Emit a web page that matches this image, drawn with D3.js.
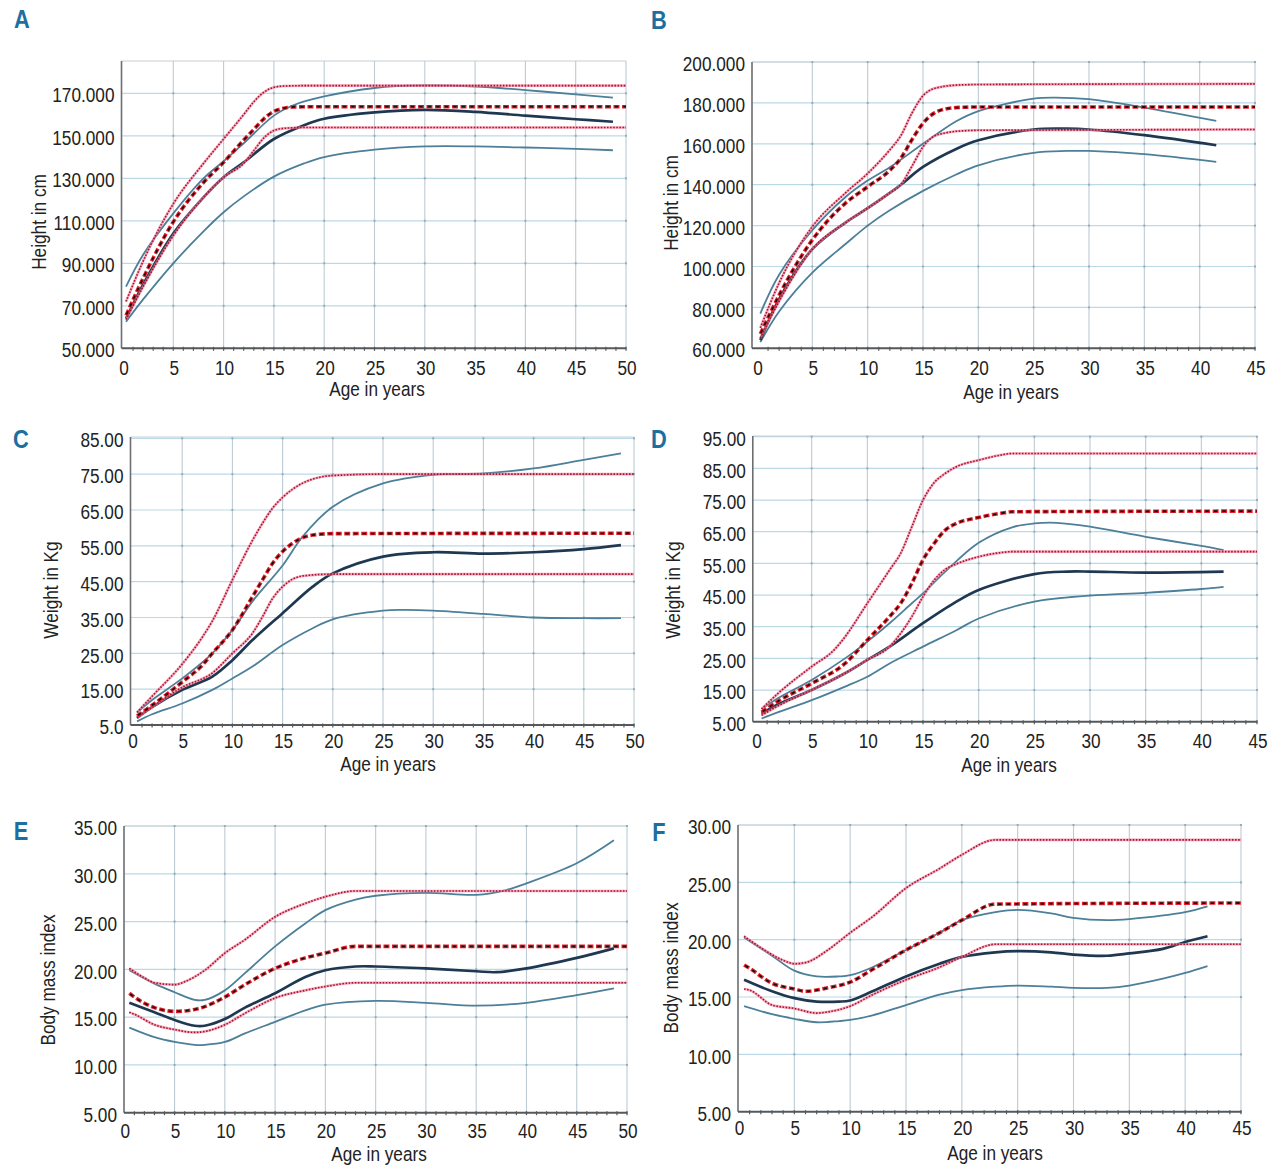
<!DOCTYPE html>
<html><head><meta charset="utf-8">
<script src="https://cdn.jsdelivr.net/npm/d3@7"></script>
<style>
body{margin:0;background:#fff;}
svg text{font-family:"Liberation Sans Narrow","Liberation Sans",Arial,sans-serif;fill:#222;}
</style></head><body>
<svg id="chart" width="1280" height="1173"></svg>
<script>
// ---------------- DATA ----------------
const xLabel = "Age in years";
const yLabels = {A:"Height in cm",B:"Height in cm",C:"Weight in Kg",D:"Weight in Kg",E:"Body mass index",F:"Body mass index"};

const xTicks50 = [0,5,10,15,20,25,30,35,40,45,50];
const xTicks45 = [0,5,10,15,20,25,30,35,40,45];
const A_yTicks = [50,70,90,110,130,150,170];
const B_yTicks = [60,80,100,120,140,160,180,200];
const C_yTicks = [5,15,25,35,45,55,65,75,85];
const C_yTickLabels = ["5.0","15.00","25.00","35.00","45.00","55.00","65.00","75.00","85.00"];
const D_yTicks = [5,15,25,35,45,55,65,75,85,95];
const E_yTicks = [5,10,15,20,25,30,35];
const F_yTicks = [5,10,15,20,25,30];

// Panel A – height (reference: red, observed: blue)
const A_refHigh = [[0.3,72],[2,91],[5,118],[8,137],[10,148.5],[12,160],[13,166],[14,170.5],[15,172.8],[16,173.4],[18,173.6],[50,173.6]];
const A_refMid  = [[0.3,65.5],[2,83],[5,109.5],[8,128],[10,137.5],[12,148],[13,153],[14,158],[15,161.5],[16,163],[17,163.6],[20,163.7],[50,163.7]];
const A_refLow  = [[0.3,63.5],[2,79],[5,103],[8,121],[10,130.5],[12,137],[13,143],[14,149],[15,152.5],[16,153.5],[18,153.9],[50,153.9]];
const A_obsHigh = [[0.3,79],[2,94],[5,113.5],[8,130],[10,138],[12,146.5],[15,159.5],[17,164.5],[20,168.5],[25,172.5],[30,173.7],[35,173.2],[40,171.5],[45,169.5],[48.7,168]];
const A_obsMid  = [[0.3,64],[2,80],[5,104],[8,121],[10,130.5],[12,137.5],[15,148.5],[18,155],[20,158],[25,161],[30,162.2],[35,161.3],[40,159.5],[45,157.8],[48.7,156.6]];
const A_obsLow  = [[0.3,62.5],[2,73],[5,90],[8,105],[10,114],[12,121.5],[15,130.8],[18,137],[20,140],[25,143.5],[30,145],[35,145],[40,144.5],[45,143.8],[48.7,143.2]];

// Panel B – height
const B_refHigh = [[0.3,70],[2,92],[5,119.5],[8,136],[10,145.5],[12,157],[13,164],[14,175],[15,183.5],[16,187],[18,188.7],[20,189],[45,189.3]];
const B_refMid  = [[0.3,67],[2,86],[5,113],[8,131],[10,139],[12,147],[13,153],[14,162],[15,170],[16,175],[17,177],[18,177.7],[20,178],[45,178]];
const B_refLow  = [[0.3,65],[2,83],[5,108.5],[8,121.5],[10,128.5],[12,136],[13,140],[14,149],[15,158.5],[16,163.7],[17,165.3],[18,166.1],[20,166.6],[45,167]];
const B_obsHigh = [[0.3,77],[2,96],[5,117.8],[8,134],[10,142],[12,148.5],[15,160],[18,171],[20,176],[25,182.1],[27,182.6],[30,181.8],[35,177.7],[41.5,171.2]];
const B_obsMid  = [[0.3,64],[2,84],[5,108.5],[8,121.5],[10,128.5],[12,136],[13,140],[15,148.7],[18,157.5],[20,161.7],[25,167],[28,167.4],[30,167],[35,164.2],[41.5,159.3]];
const B_obsLow  = [[0.3,63],[2,78],[5,97],[8,111],[10,120],[12,127.5],[15,137],[18,145],[20,149.5],[25,155.6],[28,156.5],[30,156.5],[35,155],[41.5,151.2]];

// Panel C – weight
const C_refHigh = [[0.5,8.5],[2,13],[5,22],[7,29.5],[8,34],[10,45.5],[12,56.5],[13,61.3],[14,65.5],[15,68.5],[17,72.5],[20,74.6],[25,75],[50,75]];
const C_refMid  = [[0.5,7.5],[2,10.5],[5,17],[7,21.7],[8,25],[10,31.5],[12,40.8],[13,45.5],[14,50.1],[15,53.4],[16,55.7],[17,57.3],[18,58],[20,58.4],[50,58.5]];
const C_refLow  = [[0.5,7],[2,10],[5,15.5],[8,19.5],[10,25],[12,30.6],[13,35.2],[14,40.3],[15,43.6],[16,45.7],[17,46.6],[20,47.1],[50,47.1]];
const C_obsHigh = [[0.5,8.5],[2,12],[5,18],[8,25],[10,31.5],[12,39.5],[15,49.5],[17,57.6],[20,65.9],[25,72.4],[30,74.8],[35,75.2],[40,76.6],[45,79],[48.7,80.8]];
const C_obsMid  = [[0.5,7],[2,10],[5,14.8],[8,18.5],[10,23.1],[12,28.7],[15,36.2],[18,43.6],[20,47.3],[25,52],[30,53.2],[35,52.8],[40,53.2],[45,54.1],[48.7,55.2]];
const C_obsLow  = [[0.5,6],[2,8],[5,11],[8,14.8],[10,18],[12,21.3],[15,27.3],[18,32],[20,34.5],[25,36.9],[27,37.1],[30,36.9],[35,36],[40,35],[45,34.8],[48.7,34.8]];

// Panel D – weight
const D_refHigh = [[0.5,9],[2,14],[5,22.4],[7,27.6],[8,31.8],[10,42.4],[12,52.9],[13,58.2],[14,66.6],[15,75],[16,80.5],[17,83.4],[18,85.5],[20,87.6],[22,89.2],[23,89.7],[45,89.7]];
const D_refMid  = [[0.5,8],[2,11.5],[5,17.1],[8,23.4],[10,30.8],[12,38.2],[13,42.4],[14,48.7],[15,56.1],[16,61.3],[17,65.5],[18,67.6],[20,69.5],[22,70.8],[23,71.3],[45,71.5]];
const D_refLow  = [[0.5,7],[2,10],[5,15],[8,20.3],[10,24.5],[12,28.7],[13,32.9],[14,38.2],[15,44.5],[16,49.7],[17,53.1],[18,54.8],[20,57.1],[22,58.4],[23,58.7],[45,58.7]];
const D_obsHigh = [[0.5,9],[2,12.5],[5,18.2],[8,25],[10,30.3],[12,36.1],[14,42.4],[15,45.5],[17,52.4],[20,61.5],[23,66.4],[25,67.6],[27,67.8],[30,66.6],[35,63.4],[40,60.5],[42,59.2]];
const D_obsMid  = [[0.5,7.5],[2,10.5],[5,15],[8,20.3],[10,24.5],[12,28.7],[15,36.1],[18,42.9],[20,46.6],[25,51.6],[28,52.4],[30,52.4],[35,52.1],[42,52.4]];
const D_obsLow  = [[0.5,6],[2,8],[5,11.8],[8,16.1],[10,19.2],[12,23.4],[15,28.7],[18,33.9],[20,37.6],[25,42.9],[30,44.8],[35,45.7],[40,46.9],[42,47.6]];

// Panel E – BMI
const E_refHigh = [[0.5,20.1],[2,19.1],[3,18.6],[5,18.4],[6,18.7],[8,19.9],[10,21.7],[12,23.1],[15,25.5],[18,26.9],[20,27.6],[23,28.2],[50,28.2]];
const E_refMid  = [[0.5,17.5],[1,17.1],[3,16],[5,15.6],[7,15.8],[8,16.1],[10,17.1],[12,18.4],[15,20.1],[18,21.2],[20,21.7],[23,22.4],[50,22.4]];
const E_refLow  = [[0.5,15.5],[1,15.3],[3,14.2],[5,13.7],[7,13.4],[8,13.5],[10,14.2],[12,15.4],[15,17],[18,17.8],[20,18.2],[23,18.6],[50,18.6]];
const E_obsHigh = [[0.5,19.9],[3,18.5],[5,17.6],[7,16.8],[8,16.8],[10,17.8],[12,19.6],[15,22.4],[18,24.8],[20,26.2],[23,27.3],[25,27.7],[30,28],[35,27.8],[38,28.3],[40,29],[45,31.1],[48.7,33.5]];
const E_obsMid  = [[0.5,16.5],[3,15.5],[5,14.7],[7,14.1],[8,14.1],[10,14.8],[12,16],[15,17.5],[18,19.2],[20,19.9],[23,20.3],[25,20.3],[30,20.1],[35,19.8],[37,19.7],[40,20.1],[45,21.2],[48.7,22.2]];
const E_obsLow  = [[0.5,13.9],[3,12.9],[5,12.4],[7,12.1],[8,12.1],[10,12.4],[12,13.3],[15,14.5],[18,15.7],[20,16.3],[25,16.7],[30,16.5],[35,16.2],[40,16.5],[45,17.3],[48.7,18]];

// Panel F – BMI
const F_refHigh = [[0.5,20.3],[2,19.3],[4,18.2],[5,17.9],[6,18],[8,19.1],[10,20.6],[12,22],[15,24.5],[18,26.2],[20,27.4],[23,28.7],[45,28.7]];
const F_refMid  = [[0.5,17.8],[1,17.5],[3,16.2],[5,15.7],[6,15.5],[8,15.8],[10,16.3],[12,17.4],[15,19.1],[18,20.6],[20,21.7],[23,23.1],[45,23.2]];
const F_refLow  = [[0.5,15.7],[1,15.6],[3,14.3],[5,14],[7,13.6],[8,13.7],[10,14.2],[12,15.2],[15,16.5],[18,17.6],[20,18.5],[23,19.6],[45,19.6]];
const F_obsHigh = [[0.5,20.2],[3,18.6],[5,17.3],[7,16.8],[9,16.8],[10,16.9],[12,17.6],[15,19.1],[18,20.6],[20,21.7],[23,22.4],[25,22.6],[28,22.3],[30,21.9],[33,21.7],[35,21.8],[40,22.4],[42,22.9]];
const F_obsMid  = [[0.5,16.5],[3,15.5],[5,14.9],[7,14.6],[9,14.6],[10,14.7],[12,15.5],[15,16.8],[18,17.9],[20,18.5],[23,18.9],[25,19],[28,18.9],[30,18.7],[33,18.6],[35,18.8],[38,19.2],[40,19.8],[42,20.3]];
const F_obsLow  = [[0.5,14.2],[3,13.5],[5,13.1],[7,12.8],[9,12.9],[10,13],[12,13.4],[15,14.3],[18,15.2],[20,15.6],[23,15.9],[25,16],[28,15.9],[30,15.8],[33,15.8],[35,16],[38,16.6],[40,17.1],[42,17.7]];

// ---------------- LAYOUT ----------------
const panels = [
  {id:"A", xDom:[0,50], xRange:[123,626], axisX:121.5, yDom:[50,170], yRange:[348.3,93.3], top:61, yTicks:A_yTicks, fmt:d3.format(".3f"),
   letter:[14,28], yLab:[39,222], xLab:[377,389], xTickY:368, xTicks:xTicks50,
   ref:[A_refHigh,A_refMid,A_refLow], obs:[A_obsHigh,A_obsMid,A_obsLow]},
  {id:"B", xDom:[0,45], xRange:[757,1255], axisX:752, yDom:[60,200], yRange:[348.3,62], top:62, yTicks:B_yTicks, fmt:d3.format(".3f"),
   letter:[651,29], yLab:[671,203], xLab:[1011,392], xTickY:368, xTicks:xTicks45,
   ref:[B_refHigh,B_refMid,B_refLow], obs:[B_obsHigh,B_obsMid,B_obsLow]},
  {id:"C", xDom:[0,50], xRange:[132,634], axisX:130.5, yDom:[5,85], yRange:[725,438.3], top:437, yTicks:C_yTicks, labels:C_yTickLabels,
   letter:[13,448], yLab:[51,590], xLab:[388,764], xTickY:741, xTicks:xTicks50,
   ref:[C_refHigh,C_refMid,C_refLow], obs:[C_obsHigh,C_obsMid,C_obsLow]},
  {id:"D", xDom:[0,45], xRange:[756,1257], axisX:752.8, yDom:[5,95], yRange:[721.7,436.7], top:436, yTicks:D_yTicks, fmt:d3.format(".2f"),
   letter:[651,448], yLab:[673,590], xLab:[1009,765], xTickY:741, xTicks:xTicks45,
   ref:[D_refHigh,D_refMid,D_refLow], obs:[D_obsHigh,D_obsMid,D_obsLow]},
  {id:"E", xDom:[0,50], xRange:[124.3,627], axisX:124, yDom:[5,35], yRange:[1112.7,826], top:826, yTicks:E_yTicks, fmt:d3.format(".2f"),
   letter:[13,840], yLab:[48,980], xLab:[379,1154], xTickY:1131, xTicks:xTicks50,
   ref:[E_refHigh,E_refMid,E_refLow], obs:[E_obsHigh,E_obsMid,E_obsLow]},
  {id:"F", xDom:[0,45], xRange:[738.5,1241], axisX:738, yDom:[5,30], yRange:[1111.7,825], top:825, yTicks:F_yTicks, fmt:d3.format(".2f"),
   letter:[651,841], yLab:[671,968], xLab:[995,1153], xTickY:1128, xTicks:xTicks45,
   ref:[F_refHigh,F_refMid,F_refLow], obs:[F_obsHigh,F_obsMid,F_obsLow]}
];

const SX = 0.84; // horizontal compression to imitate a condensed face
const svg = d3.select("#chart");

function label(g, x, y, str, anchor, size, rot, extra) {
  const t = g.append("text")
    .attr("transform", `translate(${x},${y})` + (rot ? ` rotate(${rot})` : "") + ` scale(${SX},1)`)
    .attr("dy","0.35em").attr("text-anchor",anchor).attr("font-size",size).text(str);
  if (extra) extra(t);
  return t;
}

panels.forEach(p => {
  const x = d3.scaleLinear().domain(p.xDom).range(p.xRange);
  const y = d3.scaleLinear().domain(p.yDom).range(p.yRange);
  const g = svg.append("g").attr("class","panel-"+p.id);
  const left = p.axisX, right = x(p.xDom[1]), bottom = y(p.yDom[0]), top = p.top;

  // horizontal grid
  g.append("g").selectAll("line").data(p.yTicks.slice(1)).join("line")
    .attr("x1",left).attr("x2",right).attr("y1",d=>y(d)).attr("y2",d=>y(d))
    .attr("stroke","#bcd9e8").attr("stroke-width",1.2);
  // top border
  g.append("line").attr("x1",left).attr("x2",right).attr("y1",top).attr("y2",top)
    .attr("stroke","#c9cfd3").attr("stroke-width",1.2);
  // vertical grid
  g.append("g").selectAll("line").data(p.xTicks.slice(1)).join("line")
    .attr("x1",d=>x(d)).attr("x2",d=>x(d)).attr("y1",top).attr("y2",bottom)
    .attr("stroke","#bccbd4").attr("stroke-width",1.1);
  const pts = [];
  p.xTicks.slice(1).forEach(a => p.yTicks.forEach(b => pts.push([a,b])));
  g.append("g").selectAll("rect").data(pts).join("rect")
    .attr("x",d=>x(d[0])-1).attr("y",d=>y(d[1])-1).attr("width",2).attr("height",2)
    .attr("fill","#98adb9");

  // left axis
  g.append("line").attr("x1",left).attr("x2",left).attr("y1",top).attr("y2",bottom)
    .attr("stroke","#6b6f72").attr("stroke-width",1.6);
  // bottom axis with minor ticks
  g.append("line").attr("x1",left).attr("x2",right).attr("y1",bottom).attr("y2",bottom)
    .attr("stroke","#55595c").attr("stroke-width",2);
  g.append("g").selectAll("line").data(d3.range(p.xDom[0]+1, p.xDom[1]+1, 1)).join("line")
    .attr("x1",d=>x(d)).attr("x2",d=>x(d)).attr("y1",bottom-1.5).attr("y2",bottom+2.5)
    .attr("stroke","#55595c").attr("stroke-width",1.2);

  // y tick labels
  p.yTicks.forEach((d,i) => label(g, left-7, y(d)+2, p.labels ? p.labels[i] : p.fmt(d), "end", 20.5));
  // x tick labels
  p.xTicks.forEach(d => label(g, x(d)+1, p.xTickY, String(d), "middle", 20.5));
  // axis titles
  label(g, p.xLab[0], p.xLab[1], xLabel, "middle", 20.5);
  label(g, p.yLab[0], p.yLab[1], yLabels[p.id], "middle", 20.5, -90);
  // panel letter
  label(g, p.letter[0]+8, p.letter[1]-9, p.id, "middle", 26, 0,
        t => t.attr("font-weight","bold").style("fill","#1d6f9f"));

  const smooth = d3.line().x(d=>x(d[0])).y(d=>y(d[1])).curve(d3.curveCatmullRom.alpha(0.5));
  const mono = d3.line().x(d=>x(d[0])).y(d=>y(d[1])).curve(d3.curveMonotoneX);

  // observed (blue) curves
  [p.obs[0], p.obs[2]].forEach(o => g.append("path").datum(o).attr("d",smooth).attr("fill","none")
    .attr("stroke","#4c7f99").attr("stroke-width",1.8));
  g.append("path").datum(p.obs[1]).attr("d",smooth).attr("fill","none")
    .attr("stroke","#1f3852").attr("stroke-width",2.7);

  // reference outer dotted curves
  [p.ref[0], p.ref[2]].forEach(r => {
    g.append("path").datum(r).attr("d",mono).attr("fill","none")
      .attr("stroke","#f27d98").attr("stroke-width",2.6).attr("opacity",0.7);
    g.append("path").datum(r).attr("d",mono).attr("fill","none")
      .attr("stroke","#a5122f").attr("stroke-width",1.6).attr("stroke-dasharray","1.5,1.6");
  });
  // reference median dashed
  g.append("path").datum(p.ref[1]).attr("d",mono).attr("fill","none")
    .attr("stroke","#e5202c").attr("stroke-width",3.6).attr("stroke-dasharray","6,2.5");
  g.append("path").datum(p.ref[1]).attr("d",mono).attr("fill","none")
    .attr("stroke","#1a1010").attr("stroke-width",1.8).attr("stroke-dasharray","3.5,5").attr("stroke-dashoffset",-1.2);
});
</script>
</body></html>
